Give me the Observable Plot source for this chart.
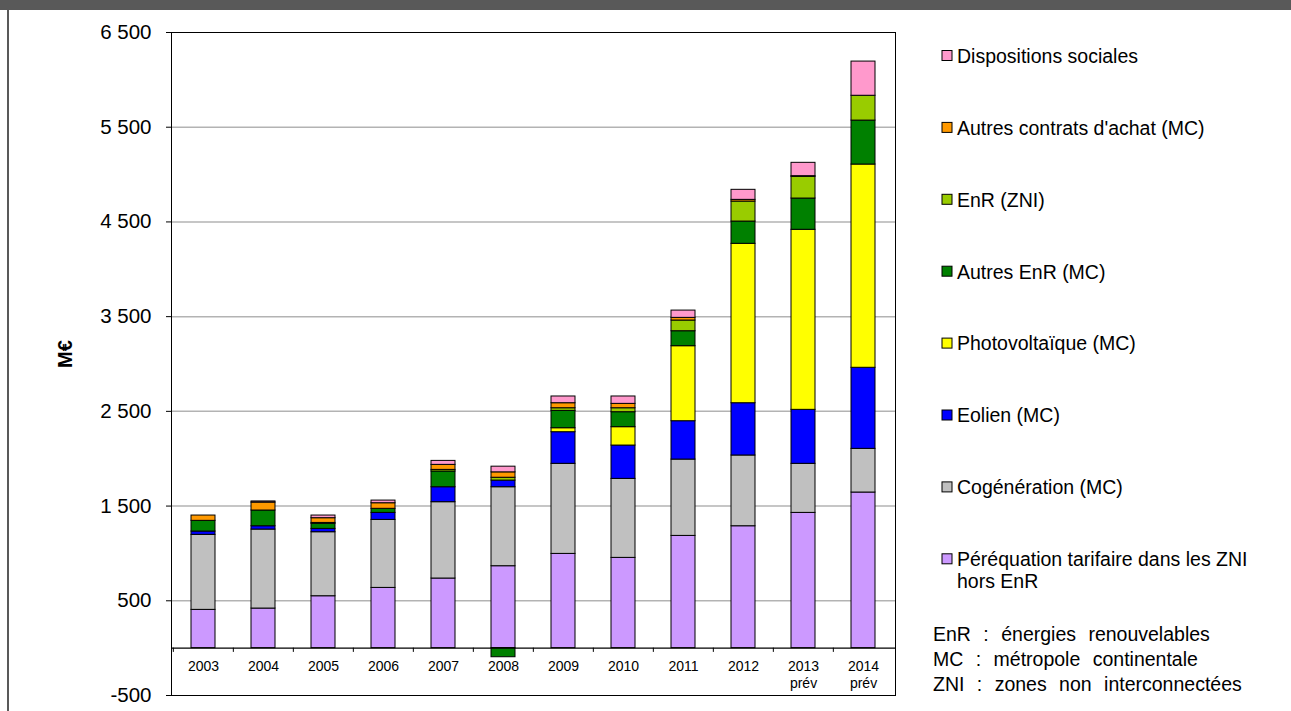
<!DOCTYPE html>
<html><head><meta charset="utf-8">
<script src="https://cdn.jsdelivr.net/npm/d3@7"></script>
<script src="https://cdn.jsdelivr.net/npm/@observablehq/plot@0.6"></script>
<style>
body{margin:0;background:#fff;}
svg{font-family:"Liberation Sans",Arial,sans-serif;}
</style>
</head><body><div id="chart"></div>
<script>
// ---- data ----
const years = ["2003","2004","2005","2006","2007","2008","2009","2010","2011","2012","2013","2014"];
const yearLabels = ["2003","2004","2005","2006","2007","2008","2009","2010","2011","2012","2013\nprév","2014\nprév"];
const seriesNames = [
  "Péréquation tarifaire dans les ZNI hors EnR",
  "Cogénération (MC)",
  "Eolien (MC)",
  "Photovoltaïque (MC)",
  "Autres EnR (MC)",
  "EnR (ZNI)",
  "Autres contrats d'achat (MC)",
  "Dispositions sociales"
];
const legendLabels = [
  ["Péréquation tarifaire dans les ZNI", "hors EnR"],
  ["Cogénération (MC)"],
  ["Eolien (MC)"],
  ["Photovoltaïque (MC)"],
  ["Autres EnR (MC)"],
  ["EnR (ZNI)"],
  ["Autres contrats d'achat (MC)"],
  ["Dispositions sociales"]
];
const seriesColors = ["#CC99FF","#C0C0C0","#0000FF","#FFFF00","#008000","#99CC00","#FF9900","#FF99CC"];
const perequation    = [404, 418, 548, 636, 735, 865, 995, 953, 1185, 1287, 1428, 1643];
const cogeneration   = [792, 834, 676, 718, 806, 834, 951, 834, 806, 747, 518, 461];
const eolien         = [35, 35, 35, 74, 158, 70, 334, 352, 405, 552, 570, 856];
const photovoltaique = [0, 0, 0, 0, 0, 0, 42, 194, 792, 1683, 1901, 2146];
const autresEnR      = [113, 166, 53, 43, 166, -96, 183, 158, 158, 235, 330, 464];
const enrZNI         = [0, 0, 10, 0, 17, 30, 28, 42, 113, 211, 229, 262];
const autresContrats = [56, 84, 50, 59, 53, 57, 53, 46, 28, 18, 7, 0];
const dispositions   = [0, 12, 28, 28, 42, 60, 71, 78, 77, 106, 141, 361];
const yTicks = [-500, 500, 1500, 2500, 3500, 4500, 5500, 6500];
const gridValues = [500, 1500, 2500, 3500, 4500, 5500];
const notes = ["EnR : énergies renouvelables", "MC : métropole continentale", "ZNI : zones non interconnectées"];

const seriesValues = [perequation, cogeneration, eolien, photovoltaique, autresEnR, enrZNI, autresContrats, dispositions];
const data = [];
seriesNames.forEach((s, i) => years.forEach((y, j) => {
  const v = seriesValues[i][j];
  if (v !== 0) data.push({year: y, series: s, value: v});
}));

const W = 1291, H = 711, mL = 171, mR = 396, mT = 32, mB = 16;
const step = (W - mL - mR) / years.length;
const fmt = d => d3.format(",")(d).replace(/,/g, " ").replace(/\u2212/g, "-");
const FONT = '"Liberation Sans", Arial, sans-serif';

const chart = Plot.plot({
  width: W, height: H,
  marginLeft: mL, marginRight: mR, marginTop: mT, marginBottom: mB,
  style: {fontFamily: FONT, background: "transparent", color: "#000"},
  x: {type: "band", domain: years, paddingInner: 0.6, paddingOuter: 0.3, axis: null},
  y: {domain: [-500, 6500], axis: null},
  color: {domain: seriesNames, range: seriesColors},
  marks: [
    Plot.ruleY(gridValues, {stroke: "#b3b3b3", strokeWidth: 1.5}),
    Plot.barY(data, {x: "year", y: "value", fill: "series", stroke: "#000", strokeWidth: 1, order: seriesNames}),
    Plot.ruleY([0], {stroke: "#000", strokeWidth: 1.3}),
    Plot.ruleX(years, {x: d => d, y1: () => 0, y2: () => -45, dx: -step / 2, stroke: "#000"}),
    Plot.frame({stroke: "#000"}),
    Plot.axisY({ticks: yTicks, tickFormat: fmt, tickSize: 5, tickPadding: 15, fontSize: 20.5, anchor: "left", label: null}),
    Plot.text(years, {x: d => d, y: () => 0, text: (d, i) => yearLabels[i], dy: 10, lineAnchor: "top", fontSize: 14, lineHeight: 1.25}),
    Plot.text(["M€"], {frameAnchor: "left", dx: -106, dy: 4, rotate: -90, fontWeight: "bold", fontSize: 20})
  ]
});

const svg = d3.select(chart);
// outer frame decoration
svg.append("rect").attr("x", 0).attr("y", 0).attr("width", W).attr("height", 10).attr("fill", "#595959");
svg.append("rect").attr("x", 7).attr("y", 0).attr("width", 2).attr("height", H).attr("fill", "#595959");

// legend (top to bottom: reverse stacking order)
const lg = svg.append("g").attr("font-family", FONT).attr("font-size", 19.5).attr("text-anchor", "start").attr("fill", "#000");
const order = seriesNames.map((s, i) => i).reverse();
order.forEach((si, k) => {
  const cy = 56 + k * 71.9;
  lg.append("rect").attr("x", 942).attr("y", cy - 5.5).attr("width", 10).attr("height", 10)
    .attr("fill", seriesColors[si]).attr("stroke", "#000").attr("stroke-width", 1);
  legendLabels[si].forEach((line, li) => {
    lg.append("text").attr("x", 957).attr("y", cy + 6.8 + li * 22).text(line);
  });
});
notes.forEach((n, k) => {
  lg.append("text").attr("x", 933).attr("y", 634 + 6.8 + k * 25).attr("word-spacing", 7).text(n);
});

document.getElementById("chart").appendChild(chart);
</script>
</body></html>
